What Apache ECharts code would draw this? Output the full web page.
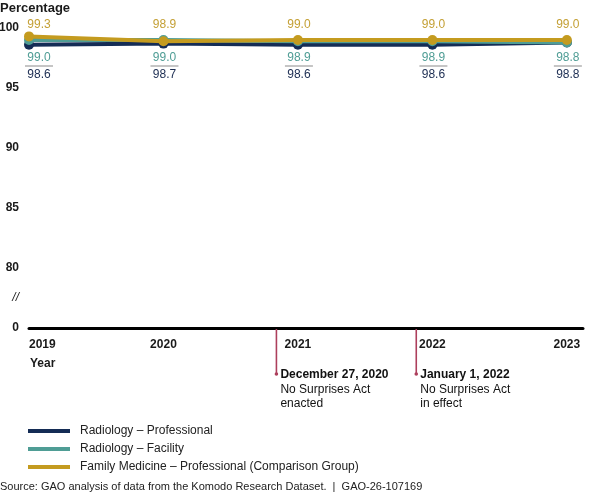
<!DOCTYPE html>
<html>
<head>
<meta charset="utf-8">
<script src="https://cdn.jsdelivr.net/npm/echarts@6/dist/echarts.min.js"></script>
<style>
html,body{margin:0;padding:0;background:#fff;}
#chart{width:600px;height:492px;}
</style>
</head>
<body>
<div id="chart"></div>
<script>
// ---- data ----
const years = [2019, 2020, 2021, 2022, 2023];
const radiologyProfessional = [98.6, 98.7, 98.6, 98.6, 98.8];
const radiologyFacility = [99.0, 99.0, 98.9, 98.9, 98.8];
const familyMedicine = [99.3, 98.9, 99.0, 99.0, 99.0];
const seriesNames = ['Radiology \u2013 Professional', 'Radiology \u2013 Facility', 'Family Medicine \u2013 Professional (Comparison Group)'];
const yTickLabels = {75: '0', 77.5: '{b|//}', 80: '80', 85: '85', 90: '90', 95: '95', 100: '100'};
const events = [
  {x: 2020.84, title: 'December 27, 2020', lines: ['No Surprises Act', 'enacted']},
  {x: 2021.88, title: 'January 1, 2022', lines: ['No Surprises Act', 'in effect']}
];

const colors = {navy: '#142c55', teal: '#4f9d95', gold: '#c49b1f', navyText: '#1c2d52', tealText: '#4f9d95', goldText: '#c4a035', event: '#ad3f5c'};
const FONT = 'Liberation Sans, Arial, sans-serif';
// label rows (pixel layout): gold above, teal + rule, navy below
const labelRowY = [75, 58, 25];
const valueSets = [radiologyProfessional, radiologyFacility, familyMedicine];

function mk(vals) {
  return years.map((y, i) => ({value: [y, vals[i]]}));
}

const chart = echarts.init(document.getElementById('chart'));
const labelCommon = {show: true, position: 'inside', fontSize: 12, fontFamily: FONT};
const option = {
  animation: false,
  textStyle: {fontFamily: FONT},
  grid: {left: 29, right: 17, top: 28, bottom: 164, containLabel: false, outerBoundsMode: 'none'},
  xAxis: {
    type: 'value', min: 2019, max: 2023.12, interval: 1,
    axisLine: {show: true, onZero: false, lineStyle: {color: '#000', width: 3}},
    axisTick: {show: false},
    splitLine: {show: false},
    axisLabel: {
      margin: 11, fontWeight: 'bold', fontSize: 12, color: '#1a1a1a', fontFamily: FONT,
      alignMinLabel: 'left',
      formatter: v => (Number.isInteger(v) ? String(v) : '')
    }
  },
  yAxis: {
    type: 'value', min: 75, max: 100, interval: 2.5,
    axisLine: {show: false}, axisTick: {show: false}, splitLine: {show: false},
    axisLabel: {
      margin: 10, fontWeight: 'bold', fontSize: 12, color: '#1a1a1a', fontFamily: FONT,
      formatter: v => (yTickLabels[v] !== undefined ? yTickLabels[v] : ''),
      rich: {b: {fontSize: 12, fontStyle: 'italic', fontWeight: 'normal', color: '#1a1a1a', fontFamily: FONT}}
    }
  },
  legend: {
    orient: 'vertical', left: 28, top: 424, itemWidth: 42, itemHeight: 4, itemGap: 4,
    padding: 0,
    textStyle: {fontSize: 12, color: '#222', fontFamily: FONT, padding: [0, 0, 0, 5], lineHeight: 14, height: 14},
    data: seriesNames.map(n => ({name: n, icon: 'rect'}))
  },
  series: [
    {
      name: seriesNames[0], type: 'line', data: mk(radiologyProfessional),
      symbol: 'circle', symbolSize: 10, z: 2,
      lineStyle: {width: 4, color: colors.navy}, itemStyle: {color: colors.navy},
      label: Object.assign({}, labelCommon, {color: colors.navyText, formatter: p => p.value[1].toFixed(1)})
    },
    {
      name: seriesNames[1], type: 'line', data: mk(radiologyFacility),
      symbol: 'circle', symbolSize: 10, z: 3,
      lineStyle: {width: 4, color: colors.teal}, itemStyle: {color: colors.teal},
      label: Object.assign({}, labelCommon, {
        formatter: p => '{v|' + p.value[1].toFixed(1) + '}\n{s|}',
        rich: {
          v: {fontSize: 12, color: colors.tealText, fontFamily: FONT, lineHeight: 16, align: 'center'},
          s: {width: 28, height: 1, backgroundColor: '#8a8a8a', align: 'center'}
        }})
    },
    {
      name: seriesNames[2], type: 'line', data: mk(familyMedicine),
      symbol: 'circle', symbolSize: 10, z: 4,
      lineStyle: {width: 4, color: colors.gold}, itemStyle: {color: colors.gold},
      label: Object.assign({}, labelCommon, {color: colors.goldText, formatter: p => p.value[1].toFixed(1)})
    }
  ]
};
chart.setOption(option);

// place value labels on fixed rows, relative to each point's pixel position from the library's scales
chart.setOption({
  series: valueSets.map((vals, s) => ({
    data: years.map((y, i) => {
      const py = chart.convertToPixel({xAxisIndex: 0, yAxisIndex: 0}, [y, vals[i]])[1];
      return {value: [y, vals[i]], label: {offset: [i === 0 ? 10 : 1, labelRowY[s] - py]}};
    })
  }))
});

// annotations through the library's scales
const g = [
  {type: 'text', left: 0, top: 2, style: {text: 'Percentage', font: 'bold 13px ' + FONT, fill: '#1a1a1a'}},
  {type: 'text', left: 30, top: 358, style: {text: 'Year', font: 'bold 12px ' + FONT, fill: '#1a1a1a'}},
  {type: 'text', left: 0, top: 481, style: {text: 'Source: GAO analysis of data from the Komodo Research Dataset.  |  GAO-26-107169', font: '11px ' + FONT, fill: '#222'}}
];
events.forEach(ev => {
  const p = chart.convertToPixel({xAxisIndex: 0, yAxisIndex: 0}, [ev.x, 75]);
  const x = p[0], y0 = p[1], y1 = y0 + 46;
  g.push({type: 'line', shape: {x1: x, y1: y0 + 1, x2: x, y2: y1}, style: {stroke: colors.event, lineWidth: 1.6}, z: 1});
  g.push({type: 'circle', shape: {cx: x, cy: y1, r: 1.8}, style: {fill: colors.event}});
  g.push({type: 'text', x: x + 4, y: y1 + 1, style: {text: ev.title, font: 'bold 12px ' + FONT, fill: '#111', textVerticalAlign: 'middle'}});
  ev.lines.forEach((t, i) => {
    g.push({type: 'text', x: x + 4, y: y1 + 1 + 14.5 * (i + 1), style: {text: t, font: '12px ' + FONT, fill: '#111', textVerticalAlign: 'middle'}});
  });
});
chart.setOption({graphic: g});
</script>
</body>
</html>
